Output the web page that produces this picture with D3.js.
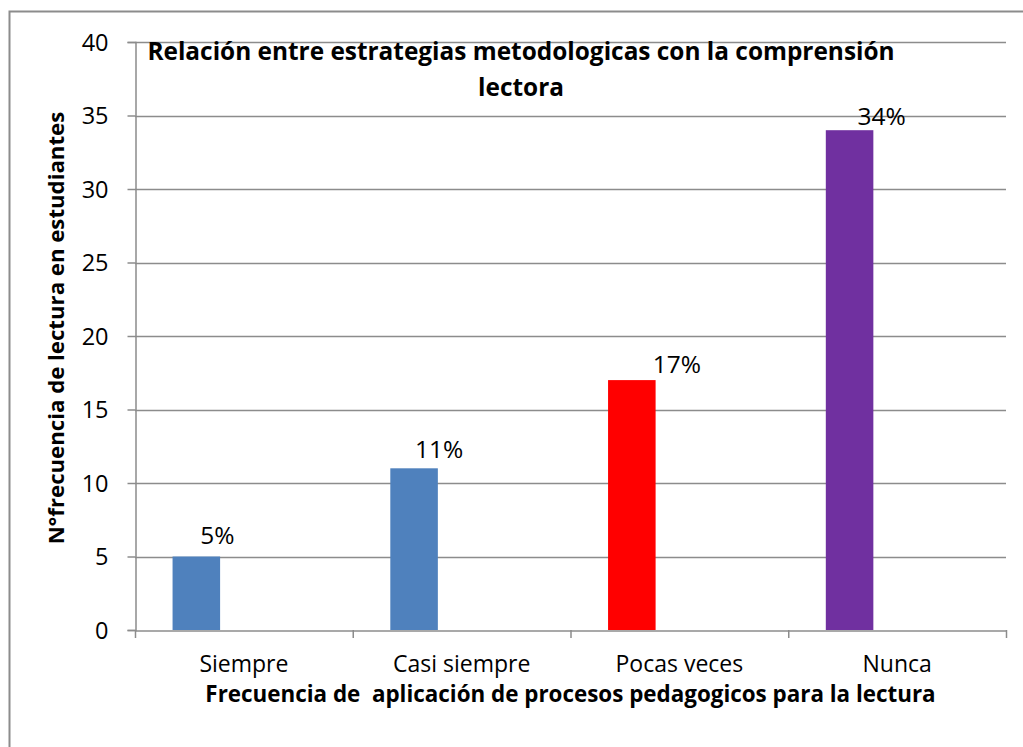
<!DOCTYPE html>
<html>
<head>
<meta charset="utf-8">
<script src="https://cdn.jsdelivr.net/npm/d3@7"></script>
<style>
  body { margin: 0; background: #fff; }
  text { font-family: "Open Sans", sans-serif; fill: #000; }
</style>
</head>
<body>
<div id="chart"></div>
<script>
var categories = ['Siempre', 'Casi siempre', 'Pocas veces', 'Nunca'];
var values = [5, 11, 17, 34];
var pctLabels = ['5%', '11%', '17%', '34%'];
var barColors = ['#4F81BD', '#4F81BD', '#FF0000', '#7030A0'];
var yTicks = [0, 5, 10, 15, 20, 25, 30, 35, 40];
// excel-style cluster: 3 slots per category, only the first one used
var slots = ['s1', 's2', 's3'];

// the data labels were dragged by hand in the original chart
var labelDx = [21, 25, 45, 32];
var labelDy = [-13, -10, -7, -5];

var W = 1023, H = 747;
var plotL = 135, plotR = 1006, plotT = 42, plotB = 630;

var svg = d3.select('#chart')
  .append('svg')
    .attr('width', W)
    .attr('height', H);

// outer chart frame (cropped on the right and bottom)
svg.append('rect')
  .attr('x', 9.5)
  .attr('y', 11.5)
  .attr('width', W + 20)
  .attr('height', H + 20)
  .attr('fill', '#fff')
  .attr('stroke', '#8c8c8c')
  .attr('stroke-width', 2);

var x0 = d3.scaleBand().domain(categories).range([plotL, plotR]).padding(0);
var x1 = d3.scaleBand().domain(slots).range([0, x0.bandwidth()]).paddingInner(0).paddingOuter(0.79);
var y = d3.scaleLinear().domain([0, 40]).range([plotB, plotT]);

// gridlines
svg.append('g')
  .selectAll('line')
  .data(yTicks.filter(function(d){ return d > 0; }))
  .enter().append('line')
    .attr('x1', plotL)
    .attr('x2', plotR)
    .attr('y1', function(d){ return Math.round(y(d)) + 0.5; })
    .attr('y2', function(d){ return Math.round(y(d)) + 0.5; })
    .attr('stroke', '#8c8c8c')
    .attr('stroke-width', 1.5);

// bars
svg.append('g')
  .selectAll('rect')
  .data(values)
  .enter().append('rect')
    .attr('x', function(d, i){ return x0(categories[i]) + x1('s1'); })
    .attr('y', function(d){ return y(d); })
    .attr('width', x1.bandwidth())
    .attr('height', function(d){ return y(0) - y(d); })
    .attr('fill', function(d, i){ return barColors[i]; });

// y axis
var yAxis = svg.append('g')
  .attr('transform', 'translate(' + (plotL + 0.5) + ',0)')
  .call(d3.axisLeft(y).tickValues(yTicks).tickSize(8).tickPadding(19));
yAxis.select('.domain').attr('stroke', '#8c8c8c').attr('stroke-width', 1.5);
yAxis.selectAll('.tick line').attr('stroke', '#8c8c8c').attr('stroke-width', 1.5);
yAxis.selectAll('.tick text')
  .attr('font-size', 23.5)
  .attr('font-family', '"Open Sans", sans-serif')
  .attr('fill', '#000')
  .attr('dy', '0.36em');

// x axis: labels centred on bands, ticks on band edges
var xAxis = svg.append('g')
  .attr('transform', 'translate(0,' + (plotB + 0.5) + ')')
  .call(d3.axisBottom(x0).tickSize(0).tickPadding(25));
xAxis.select('.domain').attr('stroke', '#8c8c8c').attr('stroke-width', 1.5);
xAxis.selectAll('.tick text')
  .attr('font-size', 23)
  .attr('font-family', '"Open Sans", sans-serif')
  .attr('fill', '#000')
  .attr('dy', '0.71em');

var edges = categories.map(function(c){ return x0(c); }).concat([x0(categories[categories.length - 1]) + x0.step()]);
svg.append('g')
  .selectAll('line')
  .data(edges)
  .enter().append('line')
    .attr('x1', function(d){ return d + 0.5; })
    .attr('x2', function(d){ return d + 0.5; })
    .attr('y1', plotB)
    .attr('y2', plotB + 8)
    .attr('stroke', '#8c8c8c')
    .attr('stroke-width', 1.5);

// data labels
svg.append('g')
  .selectAll('text')
  .data(values)
  .enter().append('text')
    .attr('x', function(d, i){ return x0(categories[i]) + x1('s1') + x1.bandwidth() / 2 + labelDx[i]; })
    .attr('y', function(d, i){ return y(d) + labelDy[i]; })
    .attr('text-anchor', 'middle')
    .attr('font-size', 24.5)
    .text(function(d, i){ return pctLabels[i]; });

// title
var title = svg.append('text')
  .attr('x', 521)
  .attr('y', 60)
  .attr('text-anchor', 'middle')
  .attr('font-size', 24.4)
  .attr('font-weight', 'bold');
title.append('tspan').attr('x', 521).text('Relación entre estrategias metodologicas con la comprensión');
title.append('tspan').attr('x', 521).attr('dy', 35.5).text('lectora');

// axis titles
svg.append('text')
  .attr('transform', 'translate(64,' + ((plotT + plotB) / 2 - 8) + ') rotate(-90)')
  .attr('text-anchor', 'middle')
  .attr('font-size', 22.2)
  .attr('font-weight', 'bold')
  .text('N°frecuencia de lectura en estudiantes');

svg.append('text')
  .attr('x', (plotL + plotR) / 2)
  .attr('y', 702)
  .attr('text-anchor', 'middle')
  .attr('font-size', 22.4)
  .attr('font-weight', 'bold')
  .style('white-space', 'pre')
  .text('Frecuencia de  aplicación de procesos pedagogicos para la lectura');
</script>
</body>
</html>
